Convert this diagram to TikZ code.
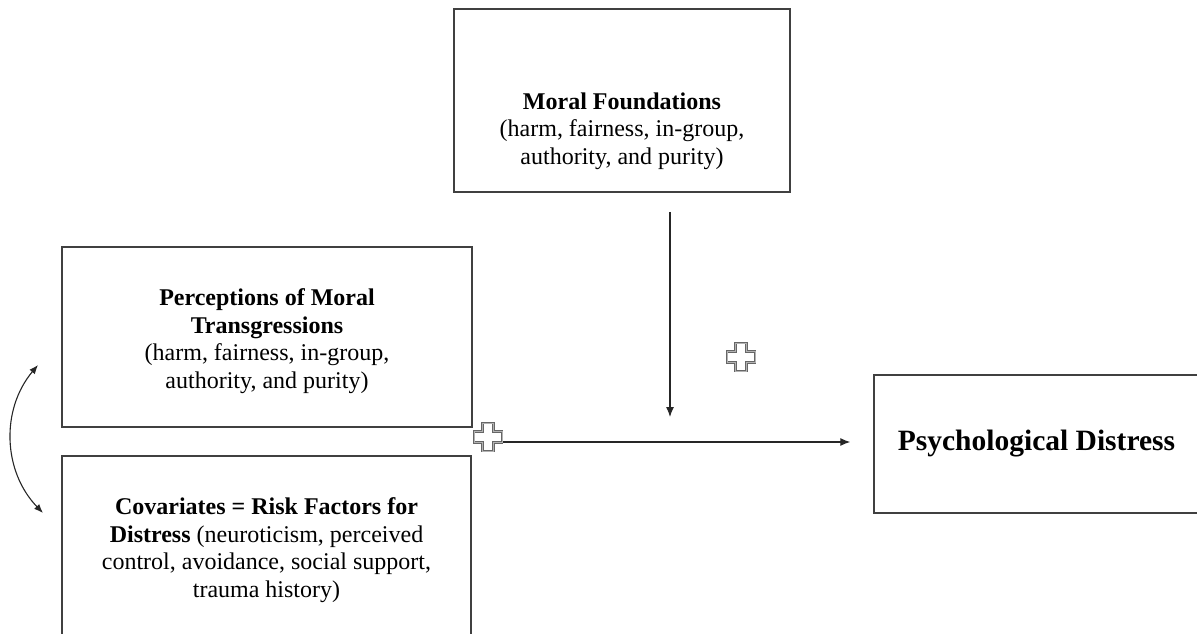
\documentclass[tikz,border=0pt]{standalone}
\usepackage{fontspec}
\setmainfont{Liberation Serif}
\usetikzlibrary{positioning,calc,arrows.meta}

\begin{document}
\begin{tikzpicture}[x=1pt, y=-1pt,
    block/.style={rectangle, draw=black!75, line width=1.5pt, inner sep=0pt},
    blocktext/.style={align=center, font=\fontsize{24}{27.5}\selectfont},
    line/.style={draw=black!85, line width=1.1pt, -{Latex[length=10pt,width=8pt]}},
    twoway/.style={draw=black!85, line width=1.1pt, {Latex[length=9pt,width=7pt]}-{Latex[length=9pt,width=7pt]}},
    plus/.style={minimum size=32pt, inner sep=0pt, path picture={
        \draw[shift={(path picture bounding box.center)}, draw=black!60, double=black!30,
              double distance=1pt, line width=0.8pt]
          (-5.5,-14) -- (5.5,-14) -- (5.5,-5.5) -- (14,-5.5) -- (14,5.5) -- (5.5,5.5)
          -- (5.5,14) -- (-5.5,14) -- (-5.5,5.5) -- (-14,5.5) -- (-14,-5.5) -- (-5.5,-5.5) -- cycle;}}]

    \useasboundingbox (0,0) rectangle (1197,634);
    \clip (0,0) rectangle (1197,634);

    % Nodes
    \node [block, minimum width=336pt, minimum height=183pt] (moral) at (622,100.5) {};
    \node [blocktext] (moraltxt) at (622,131) {\textbf{Moral Foundations}\\(harm, fairness, in-group,\\authority, and purity)};
    \node [block, minimum width=410pt, minimum height=180pt] (percept) at (267,337) {};
    \node [blocktext] (percepttxt) at (267,341)
        {\textbf{Perceptions of Moral}\\\textbf{Transgressions}\\(harm, fairness, in-group,\\authority, and purity)};
    \node [block, minimum width=409pt, minimum height=220pt] (covar) at (266.5,566) {};
    \node [blocktext] (covartxt) at (266.5,550) {\textbf{Covariates = Risk Factors for}\\\textbf{Distress} (neuroticism, perceived\\control, avoidance, social support,\\trauma history)};
    \node [block, minimum width=325pt, minimum height=138pt, font=\fontsize{29.5}{33}\selectfont\bfseries] (psych) at (1036.5,444) {Psychological Distress};
    \node [plus] (plusA) at (488,437) {};
    \node [plus] (plusB) at (741,357) {};

    % Paths
    \coordinate (hstart) at ([yshift=-5pt]plusA.east);
    \draw [line, shorten <=-1pt, shorten >=23pt] (hstart) -- (hstart -| psych.west);
    \coordinate (vend) at (670,417);
    \draw [line, shorten <=19pt] (vend |- moral.south) -- (vend);
    \coordinate (ctop) at (38,365);
    \coordinate (cbot) at (43,513);
    \draw [twoway] (ctop) to[bend right=42] (cbot);

\end{tikzpicture}
\end{document}
